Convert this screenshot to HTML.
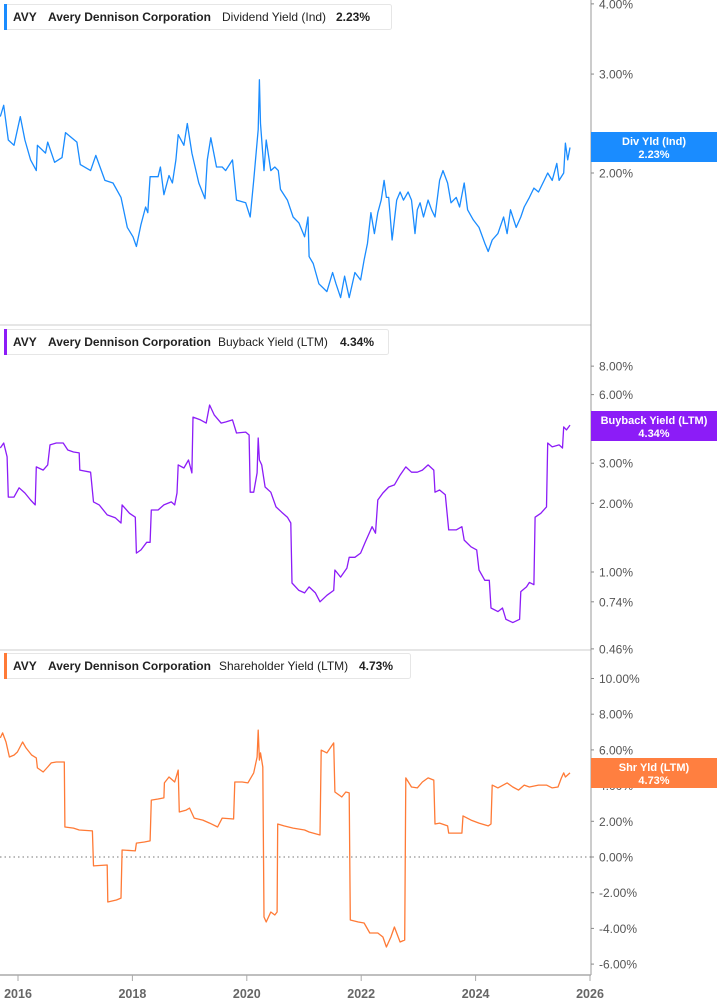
<!DOCTYPE html>
<html><head><meta charset="utf-8"><style>
body{margin:0;background:#fff;width:717px;height:1005px;overflow:hidden;font-family:"Liberation Sans",sans-serif}
svg{display:block}
</style></head><body>
<svg id="chart" width="717" height="1005" viewBox="0 0 717 1005" xmlns="http://www.w3.org/2000/svg"></svg>
<script>
// ---- data ----
const divDates=[2015.69,2015.75,2015.83,2015.93,2016.04,2016.12,2016.22,2016.32,2016.34,2016.48,2016.52,2016.64,2016.77,2016.83,2017.03,2017.09,2017.27,2017.36,2017.52,2017.66,2017.80,2017.91,2018.01,2018.07,2018.15,2018.23,2018.27,2018.31,2018.45,2018.49,2018.55,2018.64,2018.70,2018.76,2018.80,2018.90,2018.96,2019.04,2019.16,2019.27,2019.31,2019.37,2019.47,2019.57,2019.63,2019.75,2019.82,2019.98,2020.06,2020.12,2020.20,2020.22,2020.24,2020.30,2020.34,2020.42,2020.49,2020.55,2020.59,2020.71,2020.81,2020.91,2021.01,2021.07,2021.09,2021.16,2021.26,2021.40,2021.50,2021.56,2021.64,2021.71,2021.79,2021.89,2021.99,2022.05,2022.11,2022.17,2022.23,2022.29,2022.35,2022.40,2022.44,2022.48,2022.54,2022.62,2022.68,2022.74,2022.82,2022.88,2022.94,2022.98,2023.03,2023.09,2023.17,2023.23,2023.29,2023.37,2023.43,2023.51,2023.57,2023.66,2023.72,2023.80,2023.86,2023.96,2024.06,2024.16,2024.22,2024.29,2024.39,2024.49,2024.55,2024.61,2024.71,2024.79,2024.85,2024.94,2025.02,2025.10,2025.20,2025.26,2025.34,2025.42,2025.46,2025.54,2025.57,2025.61,2025.65];
const divValues=[2.52,2.64,2.29,2.24,2.52,2.29,2.11,2.02,2.24,2.17,2.27,2.09,2.13,2.36,2.27,2.07,2.02,2.15,1.94,1.92,1.81,1.60,1.54,1.48,1.62,1.74,1.70,1.97,1.97,2.05,1.83,1.98,1.92,2.11,2.34,2.24,2.45,2.17,1.92,1.80,2.11,2.31,2.05,2.05,2.02,2.11,1.79,1.77,1.67,1.94,2.39,2.93,2.45,2.02,2.29,2.02,2.05,2.02,1.87,1.79,1.67,1.63,1.54,1.67,1.42,1.38,1.27,1.23,1.33,1.27,1.20,1.31,1.20,1.33,1.29,1.40,1.50,1.70,1.56,1.70,1.79,1.94,1.81,1.81,1.52,1.79,1.85,1.79,1.85,1.79,1.56,1.72,1.77,1.67,1.79,1.72,1.67,1.94,2.02,1.92,1.77,1.81,1.74,1.92,1.72,1.65,1.60,1.50,1.45,1.52,1.56,1.67,1.56,1.72,1.60,1.67,1.74,1.81,1.88,1.85,1.94,2.00,1.94,2.08,1.94,2.00,2.26,2.11,2.22];
const bbDates=[2015.69,2015.75,2015.81,2015.83,2015.93,2016.02,2016.12,2016.22,2016.30,2016.32,2016.44,2016.52,2016.56,2016.67,2016.79,2016.87,2016.97,2017.07,2017.08,2017.27,2017.32,2017.42,2017.56,2017.70,2017.80,2017.82,2017.95,2018.05,2018.07,2018.15,2018.25,2018.31,2018.33,2018.45,2018.55,2018.68,2018.74,2018.78,2018.80,2018.90,2018.98,2019.04,2019.06,2019.19,2019.29,2019.35,2019.43,2019.55,2019.63,2019.75,2019.82,2019.98,2020.04,2020.06,2020.12,2020.18,2020.20,2020.22,2020.26,2020.32,2020.42,2020.51,2020.61,2020.71,2020.77,2020.79,2020.91,2021.01,2021.09,2021.20,2021.28,2021.40,2021.52,2021.54,2021.64,2021.75,2021.79,2021.89,2021.99,2022.07,2022.15,2022.19,2022.25,2022.29,2022.38,2022.48,2022.58,2022.68,2022.78,2022.88,2022.98,2023.07,2023.17,2023.27,2023.29,2023.37,2023.47,2023.53,2023.66,2023.76,2023.80,2023.92,2024.02,2024.06,2024.16,2024.24,2024.27,2024.39,2024.47,2024.53,2024.65,2024.77,2024.79,2024.89,2024.94,2025.02,2025.04,2025.14,2025.24,2025.26,2025.34,2025.46,2025.52,2025.54,2025.59,2025.65];
const bbValues=[3.50,3.68,3.20,2.13,2.13,2.34,2.22,2.07,1.97,2.89,2.80,2.95,3.61,3.68,3.68,3.43,3.36,3.33,2.80,2.74,2.03,1.97,1.78,1.73,1.64,1.97,1.81,1.74,1.21,1.25,1.35,1.35,1.87,1.87,1.97,2.03,1.97,2.22,2.95,2.86,3.10,2.72,4.78,4.65,4.50,5.40,4.89,4.50,4.55,4.65,4.07,4.11,3.99,2.24,2.24,2.72,3.87,3.10,2.95,2.36,2.24,1.93,1.83,1.74,1.64,0.895,0.83,0.81,0.86,0.81,0.74,0.79,0.83,1.02,0.95,1.04,1.16,1.16,1.21,1.35,1.50,1.58,1.48,2.07,2.22,2.36,2.41,2.66,2.89,2.74,2.74,2.80,2.95,2.80,2.24,2.29,2.18,1.53,1.53,1.58,1.38,1.29,1.25,1.02,0.92,0.92,0.695,0.67,0.695,0.62,0.60,0.62,0.82,0.86,0.90,0.88,1.74,1.81,1.93,3.68,3.54,3.61,3.50,4.33,4.20,4.41];
const shDates=[2015.69,2015.73,2015.79,2015.85,2015.93,2015.99,2016.08,2016.14,2016.24,2016.32,2016.34,2016.44,2016.52,2016.58,2016.67,2016.81,2016.82,2016.97,2017.07,2017.30,2017.32,2017.56,2017.57,2017.72,2017.80,2017.82,2018.05,2018.07,2018.21,2018.31,2018.33,2018.45,2018.55,2018.56,2018.64,2018.74,2018.80,2018.82,2018.94,2019.00,2019.08,2019.23,2019.35,2019.49,2019.57,2019.77,2019.79,2019.92,2020.02,2020.12,2020.18,2020.20,2020.22,2020.24,2020.28,2020.30,2020.34,2020.42,2020.49,2020.53,2020.54,2020.65,2020.81,2021.01,2021.09,2021.28,2021.30,2021.40,2021.46,2021.52,2021.54,2021.66,2021.73,2021.79,2021.81,2021.95,2022.05,2022.15,2022.29,2022.38,2022.44,2022.52,2022.58,2022.68,2022.76,2022.78,2022.88,2022.98,2023.07,2023.17,2023.27,2023.29,2023.37,2023.51,2023.53,2023.76,2023.78,2023.92,2024.06,2024.22,2024.27,2024.29,2024.39,2024.55,2024.65,2024.75,2024.85,2024.94,2025.10,2025.24,2025.34,2025.44,2025.50,2025.54,2025.57,2025.65];
const shValues=[6.67,6.95,6.44,5.60,5.71,5.88,6.44,6.11,5.71,5.55,4.99,4.76,5.04,5.27,5.32,5.32,1.68,1.62,1.51,1.46,-0.50,-0.45,-2.52,-2.41,-2.30,0.39,0.34,0.78,0.84,0.90,3.19,3.25,3.31,4.15,4.48,4.20,4.87,2.52,2.63,2.74,2.18,2.07,1.90,1.68,2.18,2.13,4.20,4.20,4.15,4.71,5.60,7.11,5.43,5.83,5.04,-3.36,-3.64,-3.08,-3.25,-3.08,1.85,1.74,1.62,1.51,1.40,1.23,5.99,5.83,6.11,6.39,3.64,3.36,3.64,3.59,-3.53,-3.64,-3.70,-4.26,-4.26,-4.48,-5.04,-4.48,-3.92,-4.76,-4.65,4.43,3.92,3.87,4.20,4.43,4.31,1.85,1.90,1.74,1.34,1.34,2.30,2.07,1.90,1.74,1.85,4.03,3.87,4.15,3.92,3.75,4.03,3.92,4.03,4.03,3.87,3.92,4.43,4.71,4.48,4.71];
const yearTicks=[2016,2018,2020,2022,2024,2026];
const divTicks=[4,3,2];
const bbTicks=[8,6,3,2,1,0.74,0.46];
const shTicks=[10,8,6,4,2,0,-2,-4,-6];

// ---- scales ----
const xS=yr=>18+(yr-2016)*57.2;
const yDiv=v=>173-244*Math.log(v/2);
const yBB=v=>572-99*Math.log(v);
const ySh=v=>857-17.85*v;

const NS='http://www.w3.org/2000/svg';
const svg=document.getElementById('chart');
function mk(tag,attrs,parent){const e=document.createElementNS(NS,tag);for(const k in attrs)e.setAttribute(k,attrs[k]);(parent||svg).appendChild(e);return e;}

// frames
let e;
e=mk('line',{x1:0,y1:325,x2:591,y2:325,stroke:'#cccccc','stroke-width':1});


e=mk('line',{x1:0,y1:650,x2:591,y2:650,stroke:'#cccccc','stroke-width':1});


e=mk('line',{x1:591,y1:0,x2:591,y2:975,stroke:'#999999','stroke-width':1});


e=mk('line',{x1:0,y1:975,x2:591,y2:975,stroke:'#aaaaaa','stroke-width':1.5});


e=mk('line',{x1:0,y1:857,x2:591,y2:857,stroke:'#777777','stroke-width':1,'stroke-dasharray':'1.5,3'});



// x ticks
yearTicks.forEach(yr=>{
  const x=xS(yr);
  const t=mk('line',{x1:x,y1:975,x2:x,y2:981,stroke:'#aaaaaa','stroke-width':1});
  
  
  const l=mk('text',{x:x,y:998,'text-anchor':'middle','font-size':12.5,'font-weight':'bold',fill:'#666'});
  l.textContent=yr;
  
  
});

function yTicks(ticks,sc,fmt){
  ticks.forEach(v=>{
    const y=sc(v);
    const t=mk('line',{x1:591,y1:y,x2:594,y2:y,stroke:'#888','stroke-width':1});
    
    
    const l=mk('text',{x:599,y:y+4.5,'font-size':12,fill:'#555'});
    l.textContent=v.toFixed(2)+'%';
    
    
  });
}
yTicks(divTicks,yDiv);yTicks(bbTicks,yBB);yTicks(shTicks,ySh);

function series(dates,vals,sc,color,name){
  let d='';
  dates.forEach((t,i)=>{d+=(i?'L':'M')+xS(t).toFixed(1)+','+sc(vals[i]).toFixed(1);});
  const p=mk('path',{d:d,fill:'none',stroke:color,'stroke-width':1.3,'stroke-linejoin':'round'});
  
  
}
series(divDates,divValues,yDiv,'#1a8cff','dividend-yield-line');
series(bbDates,bbValues,yBB,'#8c1cf7','buyback-yield-line');
series(shDates,shValues,ySh,'#ff7a36','shareholder-yield-line');

function tag(y,color,l1,l2,name){
  const g=mk('g',{});
  
  
  mk('rect',{x:591,y:y,width:126,height:30,fill:color},g);
  const a=mk('text',{x:654,y:y+13,'text-anchor':'middle','font-size':11,'font-weight':'bold',fill:'#fff'},g);a.textContent=l1;
  const b=mk('text',{x:654,y:y+26,'text-anchor':'middle','font-size':11,'font-weight':'bold',fill:'#fff'},g);b.textContent=l2;
}
tag(132,'#1a8cff','Div Yld (Ind)','2.23%','dividend-value-tag');
tag(411,'#8c1cf7','Buyback Yield (LTM)','4.34%','buyback-value-tag');
tag(758,'#ff7f40','Shr Yld (LTM)','4.73%','shareholder-value-tag');

function header(y,w,color,metric,val,name,mx,vx){
  const g=mk('g',{});
  
  
  mk('rect',{x:4.5,y:y+0.5,width:w,height:25,rx:2,fill:'#fff',stroke:'#e6e6e6'},g);
  mk('rect',{x:4,y:y,width:3,height:26,fill:color},g);
  const f=(x,txt,b)=>{const t=mk('text',{x:x,y:y+17,'font-size':12,'font-weight':b?'bold':'normal',fill:'#222'},g);t.textContent=txt;};
  f(13,'AVY',true);f(48,'Avery Dennison Corporation',true);f(mx,metric,false);f(vx,val,true);
}
header(4,387,'#1a8cff','Dividend Yield (Ind)','2.23%','dividend-header',222,336);
header(329,384,'#8c1cf7','Buyback Yield (LTM)','4.34%','buyback-header',218,340);
header(653,406,'#ff7a36','Shareholder Yield (LTM)','4.73%','shareholder-header',219,359);
</script>
</body></html>
